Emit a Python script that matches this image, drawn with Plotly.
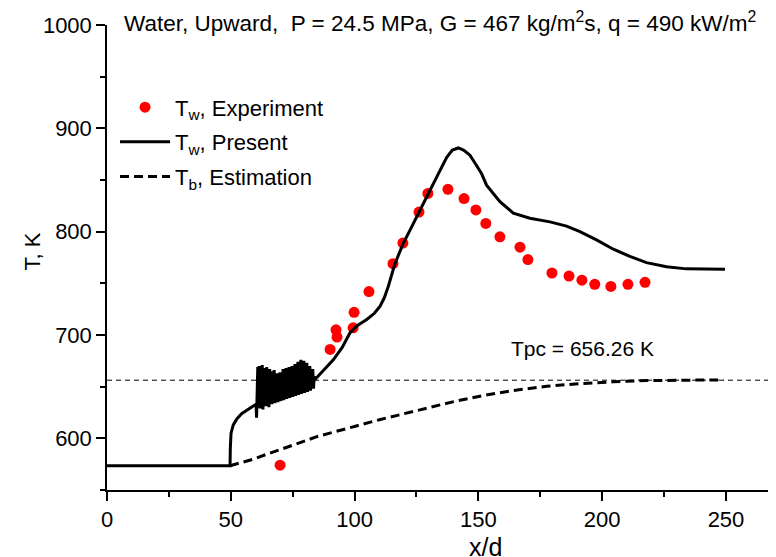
import plotly.graph_objects as go

# experimental wall temperature
exp_x = [69.9, 90.1, 92.5, 92.9, 99.4, 99.8, 105.8, 115.5, 119.5, 126.0, 129.6,
         137.7, 144.2, 149.0, 153.0, 158.7, 166.8, 170.0, 179.7, 186.6, 191.8,
         197.0, 203.5, 210.4, 217.3]
exp_t = [574, 686, 705, 698, 707, 722, 742, 769, 789, 819, 837,
         841, 832, 821, 808, 795, 785, 773, 760, 757, 753,
         749, 747, 749, 751]

# present wall temperature prediction
present_x = [0, 49.7, 49.8, 50.1, 51.0, 52.5, 54.5, 57.0, 59.0, 60.2,
             60.4, 60.6, 60.9, 61.2, 61.5, 61.8, 62.1, 62.4, 62.7, 63.0,
             63.3, 63.6, 63.9, 64.2, 64.5, 64.8, 65.1, 65.4, 65.7, 66.0,
             66.3, 66.6, 66.9, 67.2, 67.5, 67.8, 68.1, 68.4, 68.7, 69.0,
             69.3, 69.6, 69.9, 70.2, 70.5, 70.8, 71.1, 71.4, 71.7, 72.0,
             72.3, 72.6, 72.9, 73.2, 73.5, 73.8, 74.1, 74.4, 74.7, 75.0,
             75.3, 75.6, 75.9, 76.2, 76.5, 76.8, 77.1, 77.4, 77.7, 78.0,
             78.3, 78.6, 78.9, 79.2, 79.5, 79.8, 80.1, 80.4, 80.7, 81.0,
             81.3, 81.6, 81.9, 82.2, 82.5, 82.8, 83.1, 83.4, 83.7, 84.0,
             86.0, 88.0, 91.4, 95.0, 98.1, 101.0, 104.9, 108.0, 110.3, 112.0,
             113.6, 116.3, 119.7, 122.5, 125.1, 129.2, 133.2, 137.2, 139.5, 141.9,
             144.0, 146.6, 149.0, 151.3, 153.3, 156.0, 158.7, 164.1, 170.8, 178.9,
             185.6, 191.0, 197.7, 204.5, 211.2, 217.9, 226.0, 234.0, 249.6]
present_t = [573.5, 573.5, 590, 605, 613, 619, 624, 628, 631, 633,
             620, 662, 669, 630, 670, 629, 669, 634, 671, 628,
             668, 636, 666, 631, 669, 635, 664, 630, 667, 637,
             665, 633, 662, 638, 666, 634, 661, 639, 663, 635,
             660, 640, 664, 636, 661, 641, 667, 637, 665, 642,
             668, 638, 664, 643, 669, 639, 666, 644, 670, 640,
             667, 645, 672, 641, 668, 644, 674, 642, 669, 646,
             676, 643, 670, 647, 675, 644, 668, 648, 673, 645,
             666, 649, 670, 646, 664, 650, 667, 648, 660, 657,
             662, 668, 676, 688, 702, 709, 715, 721, 728, 736,
             747, 769, 789, 802, 814, 834, 853, 872, 879, 881,
             879, 874, 865, 856, 845, 837, 829, 818, 813, 809.5,
             805.4, 800, 792, 783, 776, 770, 766, 764, 763.6]

# bulk temperature estimation
bulk_x = [49.7, 53, 59, 65, 72.5, 80, 84.7, 88.7, 100, 110, 120, 130, 140,
          150.6, 164.1, 177.6, 191, 204.5, 217.9, 231.4, 249]
bulk_t = [573.5, 575.5, 579.7, 585, 591, 597.5, 601.6, 604, 611.5, 618, 624,
          629.5, 635.5, 640.8, 646.3, 650.4, 653, 654.7, 655.9, 656.2, 656.6]

tpc = 656.26
font = "Liberation Sans, Arial, sans-serif"

# the page body adds an 8px offset, so the figure is 8px smaller than the window
W, H = 768, 549
L, T, B = 99, 17, 67
pw, ph = W - L, H - T - B

fig = go.Figure()
fig.add_trace(go.Scatter(x=exp_x, y=exp_t, mode='markers',
                         marker=dict(color='#ff0000', size=11),
                         name='T<sub>w</sub>, Experiment', legendgroup='a'))
fig.add_trace(go.Scatter(x=present_x, y=present_t, mode='lines',
                         line=dict(color='black', width=3),
                         name='T<sub>w</sub>, Present', legendgroup='b'))
fig.add_trace(go.Scatter(x=bulk_x, y=bulk_t, mode='lines',
                         line=dict(color='black', width=3, dash='9px,5px'),
                         name='T<sub>b</sub>, Estimation', legendgroup='c'))

fig.add_shape(type='line', xref='paper', x0=0, x1=1, yref='y', y0=tpc, y1=tpc,
              line=dict(color='black', width=1, dash='5px,4px'))

fig.add_annotation(x=192, y=687, xref='x', yref='y', text='Tpc = 656.26 K',
                   showarrow=False, font=dict(size=21, color='black'))
fig.add_annotation(x=152.7, y=-41 / ph, xref='x', yref='paper', text='x/d',
                   showarrow=False, yanchor='top', font=dict(size=25, color='black'))
fig.add_annotation(x=(17 - 107) / pw, y=1 - (252 - 25) / ph, xref='paper', yref='paper',
                   text='T, K', textangle=-90, showarrow=False,
                   font=dict(size=22, color='black'))
fig.add_annotation(x=(440 - 107) / pw, y=1 + 3 / ph, xref='paper', yref='paper',
                   yanchor='middle',
                   text='Water, Upward,  P = 24.5 MPa, G = 467 kg/m<sup>2</sup>s, q = 490 kW/m<sup>2</sup>',
                   showarrow=False, font=dict(size=22.5, color='black'))

fig.update_layout(
    width=W, height=H,
    margin=dict(l=L, r=0, t=T, b=B, autoexpand=False),
    plot_bgcolor='white', paper_bgcolor='white',
    font=dict(family=font, color='black', size=22),
    showlegend=True,
    legend=dict(x=0.012, y=0.868, xanchor='left', yanchor='top', itemwidth=50,
                traceorder='grouped', tracegroupgap=3,
                bgcolor='rgba(0,0,0,0)', font=dict(size=22)),
    xaxis=dict(range=[0, 270.2], showline=True, linecolor='black', linewidth=1.5,
               ticks='outside', ticklen=9, tickwidth=1.5, tickcolor='black',
               dtick=50, tick0=0, showgrid=False, zeroline=False, automargin=False,
               tickfont=dict(size=22),
               minor=dict(ticks='outside', ticklen=5, dtick=25, tickcolor='black')),
    yaxis=dict(range=[550, 1000], showline=True, linecolor='black', linewidth=1.5,
               ticks='outside', ticklen=9, tickwidth=1.5, tickcolor='black',
               dtick=100, tick0=0, showgrid=False, zeroline=False, automargin=False,
               tickfont=dict(size=22),
               minor=dict(ticks='outside', ticklen=5, dtick=50, tickcolor='black')),
)

fig.write_html("out.html")
